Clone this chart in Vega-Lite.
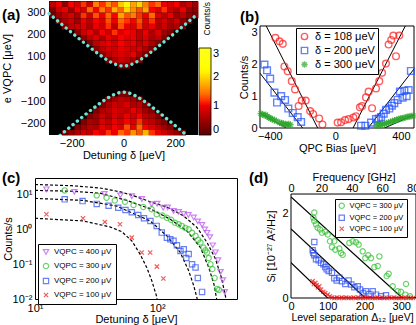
{
"$schema":"https://vega.github.io/schema/vega-lite/v6.json",
"padding":{"left":1,"top":1,"right":0,"bottom":0},
"spacing":10,
"config":{"font":"Liberation Sans","axis":{"labelFontSize":11,"titleFontSize":11,"titleFontWeight":"normal","grid":false,"domain":false,"ticks":false,"labelColor":"black","titleColor":"black","labelFlush":false,"labelOverlap":false},"view":{"stroke":"black","strokeWidth":1},"legend":{"labelColor":"black","titleColor":"black","labelOverlap":false},"title":{"color":"black"}},
"datasets":{
"heat":[
{"x":-288,"y":325,"c":0.7},{"x":-264,"y":325,"c":1.0},{"x":-240,"y":325,"c":0.4},{"x":-216,"y":325,"c":1.1},{"x":-192,"y":325,"c":0.9},{"x":-168,"y":325,"c":1.2},{"x":-144,"y":325,"c":0.8},{"x":-120,"y":325,"c":1.5},{"x":-96,"y":325,"c":1.2},{"x":-72,"y":325,"c":1.6},{"x":-48,"y":325,"c":1.3},{"x":-24,"y":325,"c":1.9},{"x":0,"y":325,"c":2.2},{"x":24,"y":325,"c":1.7},{"x":48,"y":325,"c":2.0},{"x":72,"y":325,"c":1.5},{"x":96,"y":325,"c":1.2},{"x":120,"y":325,"c":1.4},{"x":144,"y":325,"c":1.0},{"x":168,"y":325,"c":0.9},{"x":192,"y":325,"c":1.1},{"x":216,"y":325,"c":0.6},{"x":240,"y":325,"c":0.8},{"x":264,"y":325,"c":0.5},
{"x":-288,"y":300,"c":0.3},{"x":-264,"y":300,"c":0.8},{"x":-240,"y":300,"c":1.0},{"x":-216,"y":300,"c":0.5},{"x":-192,"y":300,"c":1.1},{"x":-168,"y":300,"c":0.9},{"x":-144,"y":300,"c":1.4},{"x":-120,"y":300,"c":1.1},{"x":-96,"y":300,"c":1.5},{"x":-72,"y":300,"c":1.2},{"x":-48,"y":300,"c":1.8},{"x":-24,"y":300,"c":1.4},{"x":0,"y":300,"c":2.0},{"x":24,"y":300,"c":1.6},{"x":48,"y":300,"c":1.3},{"x":72,"y":300,"c":1.7},{"x":96,"y":300,"c":1.1},{"x":120,"y":300,"c":0.9},{"x":144,"y":300,"c":1.2},{"x":168,"y":300,"c":0.8},{"x":192,"y":300,"c":0.6},{"x":216,"y":300,"c":1.0},{"x":240,"y":300,"c":0.5},{"x":264,"y":300,"c":0.4},
{"x":-288,"y":275,"c":0.2},{"x":-264,"y":275,"c":0.5},{"x":-240,"y":275,"c":0.7},{"x":-216,"y":275,"c":0.9},{"x":-192,"y":275,"c":0.6},{"x":-168,"y":275,"c":1.2},{"x":-144,"y":275,"c":0.8},{"x":-120,"y":275,"c":1.3},{"x":-96,"y":275,"c":1.0},{"x":-72,"y":275,"c":1.4},{"x":-48,"y":275,"c":1.1},{"x":-24,"y":275,"c":1.7},{"x":0,"y":275,"c":1.3},{"x":24,"y":275,"c":1.5},{"x":48,"y":275,"c":1.2},{"x":72,"y":275,"c":1.0},{"x":96,"y":275,"c":1.4},{"x":120,"y":275,"c":0.9},{"x":144,"y":275,"c":0.7},{"x":168,"y":275,"c":1.0},{"x":192,"y":275,"c":0.5},{"x":216,"y":275,"c":0.7},{"x":240,"y":275,"c":0.4},{"x":264,"y":275,"c":0.3},
{"x":-264,"y":250,"c":0.3},{"x":-240,"y":250,"c":0.6},{"x":-216,"y":250,"c":0.8},{"x":-192,"y":250,"c":0.5},{"x":-168,"y":250,"c":1.0},{"x":-144,"y":250,"c":0.7},{"x":-120,"y":250,"c":1.1},{"x":-96,"y":250,"c":0.9},{"x":-72,"y":250,"c":1.3},{"x":-48,"y":250,"c":1.0},{"x":-24,"y":250,"c":1.4},{"x":0,"y":250,"c":1.2},{"x":24,"y":250,"c":1.1},{"x":48,"y":250,"c":1.3},{"x":72,"y":250,"c":0.9},{"x":96,"y":250,"c":1.2},{"x":120,"y":250,"c":0.7},{"x":144,"y":250,"c":0.9},{"x":168,"y":250,"c":0.6},{"x":192,"y":250,"c":0.8},{"x":216,"y":250,"c":0.4},{"x":240,"y":250,"c":0.2},
{"x":-240,"y":225,"c":0.3},{"x":-216,"y":225,"c":0.7},{"x":-192,"y":225,"c":0.8},{"x":-168,"y":225,"c":0.9},{"x":-144,"y":225,"c":0.6},{"x":-120,"y":225,"c":1.0},{"x":-96,"y":225,"c":0.8},{"x":-72,"y":225,"c":1.2},{"x":-48,"y":225,"c":0.7},{"x":-24,"y":225,"c":1.3},{"x":0,"y":225,"c":1.0},{"x":24,"y":225,"c":0.9},{"x":48,"y":225,"c":1.2},{"x":72,"y":225,"c":0.8},{"x":96,"y":225,"c":1.0},{"x":120,"y":225,"c":0.6},{"x":144,"y":225,"c":0.8},{"x":168,"y":225,"c":0.5},{"x":192,"y":225,"c":0.6},{"x":216,"y":225,"c":0.2},
{"x":-192,"y":200,"c":0.4},{"x":-168,"y":200,"c":0.8},{"x":-144,"y":200,"c":1.0},{"x":-120,"y":200,"c":0.6},{"x":-96,"y":200,"c":1.1},{"x":-72,"y":200,"c":0.8},{"x":-48,"y":200,"c":1.2},{"x":-24,"y":200,"c":0.9},{"x":0,"y":200,"c":1.1},{"x":24,"y":200,"c":1.0},{"x":48,"y":200,"c":0.7},{"x":72,"y":200,"c":1.0},{"x":96,"y":200,"c":0.6},{"x":120,"y":200,"c":0.9},{"x":144,"y":200,"c":0.5},{"x":168,"y":200,"c":0.3},
{"x":-168,"y":175,"c":0.4},{"x":-144,"y":175,"c":0.7},{"x":-120,"y":175,"c":0.9},{"x":-96,"y":175,"c":0.6},{"x":-72,"y":175,"c":1.0},{"x":-48,"y":175,"c":0.8},{"x":-24,"y":175,"c":1.1},{"x":0,"y":175,"c":0.9},{"x":24,"y":175,"c":1.0},{"x":48,"y":175,"c":0.7},{"x":72,"y":175,"c":0.9},{"x":96,"y":175,"c":0.6},{"x":120,"y":175,"c":0.7},{"x":144,"y":175,"c":0.3},
{"x":-144,"y":150,"c":0.3},{"x":-120,"y":150,"c":0.7},{"x":-96,"y":150,"c":0.9},{"x":-72,"y":150,"c":1.0},{"x":-48,"y":150,"c":0.8},{"x":-24,"y":150,"c":1.1},{"x":0,"y":150,"c":0.9},{"x":24,"y":150,"c":1.0},{"x":48,"y":150,"c":0.7},{"x":72,"y":150,"c":0.9},{"x":96,"y":150,"c":0.6},{"x":120,"y":150,"c":0.3},
{"x":-120,"y":125,"c":0.4},{"x":-96,"y":125,"c":0.7},{"x":-72,"y":125,"c":0.9},{"x":-48,"y":125,"c":0.8},{"x":-24,"y":125,"c":1.0},{"x":0,"y":125,"c":0.9},{"x":24,"y":125,"c":0.8},{"x":48,"y":125,"c":0.9},{"x":72,"y":125,"c":0.6},{"x":96,"y":125,"c":0.3},
{"x":-96,"y":100,"c":0.4},{"x":-72,"y":100,"c":0.7},{"x":-48,"y":100,"c":0.8},{"x":-24,"y":100,"c":0.9},{"x":0,"y":100,"c":0.8},{"x":24,"y":100,"c":1.0},{"x":48,"y":100,"c":0.6},{"x":72,"y":100,"c":0.3},
{"x":-72,"y":75,"c":0.3},{"x":-48,"y":75,"c":0.6},{"x":-24,"y":75,"c":0.8},{"x":0,"y":75,"c":0.7},{"x":24,"y":75,"c":0.5},{"x":48,"y":75,"c":0.3},
{"x":-24,"y":50,"c":0.3},{"x":0,"y":50,"c":0.3},
{"x":-24,"y":-75,"c":0.3},{"x":0,"y":-75,"c":0.3},
{"x":-72,"y":-100,"c":0.3},{"x":-48,"y":-100,"c":0.5},{"x":-24,"y":-100,"c":0.7},{"x":0,"y":-100,"c":0.6},{"x":24,"y":-100,"c":0.5},{"x":48,"y":-100,"c":0.3},
{"x":-96,"y":-125,"c":0.3},{"x":-72,"y":-125,"c":0.6},{"x":-48,"y":-125,"c":0.8},{"x":-24,"y":-125,"c":0.7},{"x":0,"y":-125,"c":0.9},{"x":24,"y":-125,"c":0.6},{"x":48,"y":-125,"c":0.7},{"x":72,"y":-125,"c":0.3},
{"x":-120,"y":-150,"c":0.3},{"x":-96,"y":-150,"c":0.6},{"x":-72,"y":-150,"c":0.7},{"x":-48,"y":-150,"c":0.9},{"x":-24,"y":-150,"c":0.8},{"x":0,"y":-150,"c":0.7},{"x":24,"y":-150,"c":1.0},{"x":48,"y":-150,"c":0.8},{"x":72,"y":-150,"c":0.5},{"x":96,"y":-150,"c":0.3},
{"x":-144,"y":-175,"c":0.3},{"x":-120,"y":-175,"c":0.5},{"x":-96,"y":-175,"c":0.8},{"x":-72,"y":-175,"c":0.6},{"x":-48,"y":-175,"c":0.9},{"x":-24,"y":-175,"c":0.7},{"x":0,"y":-175,"c":1.0},{"x":24,"y":-175,"c":0.8},{"x":48,"y":-175,"c":1.1},{"x":72,"y":-175,"c":0.7},{"x":96,"y":-175,"c":0.6},{"x":120,"y":-175,"c":0.3},
{"x":-168,"y":-200,"c":0.3},{"x":-144,"y":-200,"c":0.6},{"x":-120,"y":-200,"c":0.5},{"x":-96,"y":-200,"c":0.9},{"x":-72,"y":-200,"c":0.7},{"x":-48,"y":-200,"c":1.0},{"x":-24,"y":-200,"c":0.8},{"x":0,"y":-200,"c":1.1},{"x":24,"y":-200,"c":0.9},{"x":48,"y":-200,"c":1.2},{"x":72,"y":-200,"c":0.8},{"x":96,"y":-200,"c":0.7},{"x":120,"y":-200,"c":0.5},{"x":144,"y":-200,"c":0.3},
{"x":-192,"y":-225,"c":0.3},{"x":-168,"y":-225,"c":0.5},{"x":-144,"y":-225,"c":0.7},{"x":-120,"y":-225,"c":0.6},{"x":-96,"y":-225,"c":1.0},{"x":-72,"y":-225,"c":0.8},{"x":-48,"y":-225,"c":1.1},{"x":-24,"y":-225,"c":0.9},{"x":0,"y":-225,"c":1.3},{"x":24,"y":-225,"c":1.0},{"x":48,"y":-225,"c":1.4},{"x":72,"y":-225,"c":1.1},{"x":96,"y":-225,"c":0.9},{"x":120,"y":-225,"c":0.7},{"x":144,"y":-225,"c":0.5},{"x":168,"y":-225,"c":0.3},
{"x":-240,"y":-250,"c":0.2},{"x":-216,"y":-250,"c":0.4},{"x":-192,"y":-250,"c":0.6},{"x":-168,"y":-250,"c":0.8},{"x":-144,"y":-250,"c":0.7},{"x":-120,"y":-250,"c":1.1},{"x":-96,"y":-250,"c":0.9},{"x":-72,"y":-250,"c":1.2},{"x":-48,"y":-250,"c":1.0},{"x":-24,"y":-250,"c":1.4},{"x":0,"y":-250,"c":1.2},{"x":24,"y":-250,"c":1.6},{"x":48,"y":-250,"c":1.3},{"x":72,"y":-250,"c":1.8},{"x":96,"y":-250,"c":1.2},{"x":120,"y":-250,"c":1.0},{"x":144,"y":-250,"c":0.8},{"x":168,"y":-250,"c":0.6},{"x":192,"y":-250,"c":0.4},{"x":216,"y":-250,"c":0.2}
],
"hyp":[
{"br":"u","x":-288,"y":293.8},{"br":"u","x":-260,"y":266.4},{"br":"u","x":-240,"y":246.9},{"br":"u","x":-220,"y":227.5},{"br":"u","x":-200,"y":208.2},{"br":"u","x":-180,"y":189.1},{"br":"u","x":-160,"y":170.2},{"br":"u","x":-140,"y":151.5},{"br":"u","x":-120,"y":133.3},{"br":"u","x":-100,"y":115.6},{"br":"u","x":-80,"y":98.8},{"br":"u","x":-60,"y":83.5},{"br":"u","x":-40,"y":70.5},{"br":"u","x":-20,"y":61.4},{"br":"u","x":0,"y":58},{"br":"u","x":20,"y":61.4},{"br":"u","x":40,"y":70.5},{"br":"u","x":60,"y":83.5},{"br":"u","x":80,"y":98.8},{"br":"u","x":100,"y":115.6},{"br":"u","x":120,"y":133.3},{"br":"u","x":140,"y":151.5},{"br":"u","x":160,"y":170.2},{"br":"u","x":180,"y":189.1},{"br":"u","x":200,"y":208.2},{"br":"u","x":220,"y":227.5},{"br":"u","x":240,"y":246.9},{"br":"u","x":260,"y":266.4},{"br":"u","x":288,"y":293.8},
{"br":"l","x":-245,"y":-251.8},{"br":"l","x":-240,"y":-246.9},{"br":"l","x":-220,"y":-227.5},{"br":"l","x":-200,"y":-208.2},{"br":"l","x":-180,"y":-189.1},{"br":"l","x":-160,"y":-170.2},{"br":"l","x":-140,"y":-151.5},{"br":"l","x":-120,"y":-133.3},{"br":"l","x":-100,"y":-115.6},{"br":"l","x":-80,"y":-98.8},{"br":"l","x":-60,"y":-83.5},{"br":"l","x":-40,"y":-70.5},{"br":"l","x":-20,"y":-61.4},{"br":"l","x":0,"y":-58},{"br":"l","x":20,"y":-61.4},{"br":"l","x":40,"y":-70.5},{"br":"l","x":60,"y":-83.5},{"br":"l","x":80,"y":-98.8},{"br":"l","x":100,"y":-115.6},{"br":"l","x":120,"y":-133.3},{"br":"l","x":140,"y":-151.5},{"br":"l","x":160,"y":-170.2},{"br":"l","x":180,"y":-189.1},{"br":"l","x":200,"y":-208.2},{"br":"l","x":220,"y":-227.5},{"br":"l","x":240,"y":-246.9},{"br":"l","x":245,"y":-251.8}
],
"bfit":[
{"g":"108L","v":-108,"c":0},{"g":"108L","v":-422,"c":3.2},{"g":"108R","v":108,"c":0},{"g":"108R","v":427,"c":3.2},
{"g":"200L","v":-200,"c":0},{"g":"200L","v":-460,"c":1.72},{"g":"200R","v":200,"c":0},{"g":"200R","v":480,"c":1.85},
{"g":"300L","v":-300,"c":0},{"g":"300L","v":-460,"c":0.47},{"g":"300R","v":300,"c":0},{"g":"300R","v":480,"c":0.41}
],
"bpts":[
{"s":"108","v":-366,"c":2.83},{"s":"108","v":-341,"c":2.72},{"s":"108","v":-321,"c":2.64},{"s":"108","v":-311,"c":1.93},{"s":"108","v":-291,"c":1.78},{"s":"108","v":-266,"c":1.47},{"s":"108","v":-246,"c":1.21},{"s":"108","v":-224,"c":0.69},{"s":"108","v":-205,"c":0.86},{"s":"108","v":-181,"c":0.86},{"s":"108","v":-154,"c":0.53},{"s":"108","v":-136,"c":0.44},{"s":"108","v":-99,"c":0.30},{"s":"108","v":-79,"c":0.11},
{"s":"108","v":14,"c":0.17},{"s":"108","v":35,"c":0.18},{"s":"108","v":59,"c":0.25},{"s":"108","v":81,"c":0.28},{"s":"108","v":110,"c":0.33},{"s":"108","v":126,"c":0.37},{"s":"108","v":150,"c":0.65},{"s":"108","v":163,"c":0.69},{"s":"108","v":187,"c":0.96},{"s":"108","v":203,"c":1.14},{"s":"108","v":224,"c":0.62},{"s":"108","v":248,"c":1.24},{"s":"108","v":268,"c":1.47},{"s":"108","v":285,"c":1.73},{"s":"108","v":309,"c":2.02},{"s":"108","v":325,"c":2.62},{"s":"108","v":341,"c":2.76},{"s":"108","v":354,"c":2.9},{"s":"108","v":370,"c":2.25},{"s":"108","v":390,"c":2.9},
{"s":"200","v":-433,"c":1.99},{"s":"200","v":-417,"c":1.81},{"s":"200","v":-398,"c":1.55},{"s":"200","v":-372,"c":1.11},{"s":"200","v":-356,"c":0.8},{"s":"200","v":-331,"c":1.0},{"s":"200","v":-307,"c":0.88},{"s":"200","v":-287,"c":0.61},{"s":"200","v":-260,"c":0.47},{"s":"200","v":-230,"c":0.34},{"s":"200","v":-209,"c":0.19},
{"s":"200","v":157,"c":0.07},{"s":"200","v":183,"c":0.07},{"s":"200","v":218,"c":0.17},{"s":"200","v":248,"c":0.28},{"s":"200","v":265,"c":0.3},{"s":"200","v":279,"c":0.34},{"s":"200","v":295,"c":0.45},{"s":"200","v":309,"c":0.57},{"s":"200","v":329,"c":0.61},{"s":"200","v":345,"c":0.7},{"s":"200","v":360,"c":0.78},{"s":"200","v":380,"c":0.88},{"s":"200","v":394,"c":1.14},{"s":"200","v":410,"c":0.95},{"s":"200","v":421,"c":1.17},{"s":"200","v":435,"c":1.0},{"s":"200","v":447,"c":1.19},{"s":"200","v":461,"c":1.79},
{"s":"300","v":-455,"c":0.45},{"s":"300","v":-445,"c":0.43},{"s":"300","v":-435,"c":0.4},{"s":"300","v":-425,"c":0.41},{"s":"300","v":-415,"c":0.36},{"s":"300","v":-405,"c":0.33},{"s":"300","v":-395,"c":0.3},{"s":"300","v":-385,"c":0.27},{"s":"300","v":-372,"c":0.25},{"s":"300","v":-360,"c":0.22},{"s":"300","v":-340,"c":0.17},{"s":"300","v":-328,"c":0.15},{"s":"300","v":-318,"c":0.14},{"s":"300","v":-305,"c":0.12},{"s":"300","v":-295,"c":0.1},{"s":"300","v":-285,"c":0.12},{"s":"300","v":-275,"c":0.1},
{"s":"300","v":250,"c":0.08},{"s":"300","v":262,"c":0.1},{"s":"300","v":275,"c":0.09},{"s":"300","v":288,"c":0.12},{"s":"300","v":300,"c":0.13},{"s":"300","v":312,"c":0.15},{"s":"300","v":325,"c":0.17},{"s":"300","v":338,"c":0.19},{"s":"300","v":350,"c":0.22},{"s":"300","v":362,"c":0.24},{"s":"300","v":375,"c":0.26},{"s":"300","v":388,"c":0.28},{"s":"300","v":400,"c":0.3},{"s":"300","v":412,"c":0.31},{"s":"300","v":425,"c":0.33},{"s":"300","v":438,"c":0.35},{"s":"300","v":450,"c":0.36},{"s":"300","v":462,"c":0.37},{"s":"300","v":475,"c":0.38}
],
"cfit":[
{"k":"400","d":10,"n":19.5},{"k":"400","d":20,"n":18},{"k":"400","d":34,"n":15.5},{"k":"400","d":50,"n":12},{"k":"400","d":64,"n":9.3},{"k":"400","d":88,"n":6.2},{"k":"400","d":120,"n":4.4},{"k":"400","d":165,"n":2.43},{"k":"400","d":212,"n":1.13},{"k":"400","d":256,"n":0.42},{"k":"400","d":300,"n":0.141},{"k":"400","d":335,"n":0.042},{"k":"400","d":365,"n":0.0105},{"k":"400","d":370,"n":0.005},
{"k":"300","d":10,"n":13.2},{"k":"300","d":20,"n":12.5},{"k":"300","d":34,"n":11},{"k":"300","d":55,"n":7},{"k":"300","d":88,"n":3.9},{"k":"300","d":128,"n":1.96},{"k":"300","d":175,"n":0.906},{"k":"300","d":226,"n":0.302},{"k":"300","d":264,"n":0.081},{"k":"300","d":291,"n":0.027},{"k":"300","d":306,"n":0.0105},{"k":"300","d":310,"n":0.005},
{"k":"200","d":10,"n":7.78},{"k":"200","d":24.7,"n":6.82},{"k":"200","d":46.6,"n":4.69},{"k":"200","d":87.6,"n":1.75},{"k":"200","d":120,"n":0.652},{"k":"200","d":154.6,"n":0.217},{"k":"200","d":181,"n":0.065},{"k":"200","d":199,"n":0.0243},{"k":"200","d":212,"n":0.0105},{"k":"200","d":215,"n":0.005},
{"k":"100","d":10,"n":2.09},{"k":"100","d":24.7,"n":1.75},{"k":"100","d":41,"n":1.18},{"k":"100","d":51.2,"n":0.865},{"k":"100","d":62,"n":0.469},{"k":"100","d":72.4,"n":0.195},{"k":"100","d":82.1,"n":0.081},{"k":"100","d":90.2,"n":0.034},{"k":"100","d":99.4,"n":0.0113},{"k":"100","d":101,"n":0.005}
],
"cpts":[
{"k":"400","d":12.4,"n":14.2},{"k":"400","d":21,"n":12},{"k":"400","d":37,"n":10.5},{"k":"400","d":50,"n":9.5},{"k":"400","d":62,"n":9},{"k":"400","d":75,"n":7.5},{"k":"400","d":90,"n":5.3},{"k":"400","d":100,"n":5.5},{"k":"400","d":112,"n":4.2},{"k":"400","d":122,"n":4.3},{"k":"400","d":136,"n":3.4},{"k":"400","d":150,"n":3.2},{"k":"400","d":165,"n":2.8},{"k":"400","d":180,"n":2.6},{"k":"400","d":199,"n":2.2},{"k":"400","d":215,"n":1.7},{"k":"400","d":233,"n":1.35},{"k":"400","d":245,"n":1.0},{"k":"400","d":256,"n":0.8},{"k":"400","d":270,"n":0.6},{"k":"400","d":285,"n":0.35},{"k":"400","d":300,"n":0.22},{"k":"400","d":315,"n":0.13},{"k":"400","d":330,"n":0.06},{"k":"400","d":345,"n":0.035},{"k":"400","d":357,"n":0.016},
{"k":"300","d":17.5,"n":13.2},{"k":"300","d":32,"n":9.5},{"k":"300","d":38.5,"n":8.1},{"k":"300","d":45,"n":6.8},{"k":"300","d":54.5,"n":6.2},{"k":"300","d":64,"n":5.0},{"k":"300","d":77,"n":4.4},{"k":"300","d":90,"n":3.8},{"k":"300","d":99,"n":2.72},{"k":"300","d":110,"n":2.5},{"k":"300","d":120,"n":2.17},{"k":"300","d":130,"n":1.9},{"k":"300","d":140,"n":1.56},{"k":"300","d":150,"n":1.4},{"k":"300","d":159,"n":1.26},{"k":"300","d":170,"n":1.1},{"k":"300","d":181,"n":1.01},{"k":"300","d":193,"n":0.8},{"k":"300","d":206,"n":0.65},{"k":"300","d":216,"n":0.5},{"k":"300","d":226,"n":0.42},{"k":"300","d":239,"n":0.3},{"k":"300","d":248,"n":0.25},{"k":"300","d":256,"n":0.216},{"k":"300","d":264,"n":0.15},{"k":"300","d":273,"n":0.1},{"k":"300","d":283,"n":0.073},{"k":"300","d":295,"n":0.04},{"k":"300","d":309,"n":0.0195},{"k":"300","d":320,"n":0.0183},
{"k":"200","d":17.5,"n":7.3},{"k":"200","d":24.5,"n":6.5},{"k":"200","d":32,"n":5.4},{"k":"200","d":40,"n":4.8},{"k":"200","d":48,"n":4.2},{"k":"200","d":55,"n":3.6},{"k":"200","d":62,"n":3.1},{"k":"200","d":70,"n":2.6},{"k":"200","d":78,"n":2.1},{"k":"200","d":88,"n":1.75},{"k":"200","d":99,"n":1.26},{"k":"200","d":109,"n":0.81},{"k":"200","d":120,"n":0.58},{"k":"200","d":128,"n":0.52},{"k":"200","d":136,"n":0.47},{"k":"200","d":145,"n":0.35},{"k":"200","d":155,"n":0.24},{"k":"200","d":165,"n":0.27},{"k":"200","d":173,"n":0.15},{"k":"200","d":181,"n":0.195},{"k":"200","d":193,"n":0.1},{"k":"200","d":206,"n":0.081},{"k":"200","d":215,"n":0.04},{"k":"200","d":233,"n":0.016},
{"k":"100","d":12.4,"n":2.72},{"k":"100","d":24.7,"n":2.09},{"k":"100","d":37.3,"n":1.64},{"k":"100","d":49.6,"n":1.4},{"k":"100","d":61.9,"n":0.58},{"k":"100","d":74.8,"n":0.216},{"k":"100","d":87.6,"n":0.216},{"k":"100","d":99.4,"n":0.085},{"k":"100","d":112.4,"n":0.0388}
],
"dfit":[
{"g":"300","x":0,"s":1.8},{"g":"300","x":303,"s":0},{"g":"300","x":340,"s":0},
{"g":"200","x":0,"s":1.23},{"g":"200","x":202,"s":0},{"g":"200","x":340,"s":0},
{"g":"100","x":0,"s":0.63},{"g":"100","x":100,"s":0},{"g":"100","x":340,"s":0}
],
"dpts":[
{"k":"300","x":63.4,"s":1.52},{"k":"300","x":60.8,"s":1.43},{"k":"300","x":63.4,"s":1.37},{"k":"300","x":68,"s":1.31},{"k":"300","x":72.6,"s":1.25},{"k":"300","x":78.9,"s":1.22},{"k":"300","x":84.3,"s":1.16},{"k":"300","x":93.3,"s":1.18},{"k":"300","x":99.8,"s":1.13},{"k":"300","x":106,"s":1.01},{"k":"300","x":117.8,"s":1.01},{"k":"300","x":111.5,"s":0.905},{"k":"300","x":120.5,"s":0.86},{"k":"300","x":131.4,"s":0.88},{"k":"300","x":136,"s":0.8},{"k":"300","x":140.6,"s":0.77},{"k":"300","x":158.6,"s":0.98},{"k":"300","x":167.8,"s":1.01},{"k":"300","x":176.8,"s":0.99},{"k":"300","x":184,"s":0.95},{"k":"300","x":195,"s":0.83},{"k":"300","x":202,"s":0.71},{"k":"300","x":210,"s":0.76},{"k":"300","x":217.6,"s":0.71},{"k":"300","x":226.7,"s":0.55},{"k":"300","x":235.9,"s":0.57},{"k":"300","x":240.3,"s":0.74},{"k":"300","x":260.3,"s":0.39},{"k":"300","x":265.7,"s":0.43},{"k":"300","x":276.6,"s":0.21},{"k":"300","x":290.2,"s":0.12},{"k":"300","x":299,"s":0.11},{"k":"300","x":311,"s":0.06},{"k":"300","x":312.9,"s":0.25},{"k":"300","x":323.7,"s":0.03},
{"k":"200","x":63.4,"s":0.995},{"k":"200","x":58.9,"s":0.85},{"k":"200","x":60.8,"s":0.8},{"k":"200","x":63.4,"s":0.76},{"k":"200","x":68,"s":0.69},{"k":"200","x":75.2,"s":0.67},{"k":"200","x":81.6,"s":0.625},{"k":"200","x":88,"s":0.6},{"k":"200","x":93.3,"s":0.55},{"k":"200","x":97.1,"s":0.51},{"k":"200","x":102.5,"s":0.48},{"k":"200","x":111.5,"s":0.45},{"k":"200","x":117.8,"s":0.35},{"k":"200","x":124.2,"s":0.31},{"k":"200","x":131.4,"s":0.36},{"k":"200","x":138.7,"s":0.3},{"k":"200","x":147.8,"s":0.25},{"k":"200","x":156.8,"s":0.31},{"k":"200","x":164,"s":0.24},{"k":"200","x":172.2,"s":0.19},{"k":"200","x":181.4,"s":0.21},{"k":"200","x":187.7,"s":0.15},{"k":"200","x":195,"s":0.09},{"k":"200","x":204,"s":0.12},{"k":"200","x":213,"s":0.07},{"k":"200","x":222.2,"s":0.12},{"k":"200","x":231.3,"s":0.06},{"k":"200","x":244.9,"s":0.03},{"k":"200","x":258.4,"s":0.05},
{"k":"100","x":58.9,"s":0.3},{"k":"100","x":62.5,"s":0.25},{"k":"100","x":66.2,"s":0.27},{"k":"100","x":69.8,"s":0.23},{"k":"100","x":73.4,"s":0.19},{"k":"100","x":77.1,"s":0.21},{"k":"100","x":81.6,"s":0.15},{"k":"100","x":88,"s":0.11},{"k":"100","x":93.3,"s":0.09},{"k":"100","x":99.8,"s":0.06},{"k":"100","x":106,"s":0.03},
{"k":"100","x":112,"s":0.01},{"k":"100","x":118,"s":0},{"k":"100","x":125,"s":0.01},{"k":"100","x":131,"s":0},{"k":"100","x":138,"s":0.01},{"k":"100","x":144,"s":0},{"k":"100","x":150,"s":0.01},{"k":"100","x":157,"s":0},{"k":"100","x":163,"s":0},{"k":"100","x":170,"s":0.01},{"k":"100","x":176,"s":0},{"k":"100","x":183,"s":0.01},{"k":"100","x":189,"s":0},{"k":"100","x":196,"s":0},{"k":"100","x":202,"s":0.01},{"k":"100","x":209,"s":0},{"k":"100","x":215,"s":0.01},{"k":"100","x":222,"s":0},{"k":"100","x":228,"s":0},{"k":"100","x":235,"s":0.01},{"k":"100","x":241,"s":0},{"k":"100","x":248,"s":0.01},{"k":"100","x":254,"s":0},{"k":"100","x":261,"s":0},{"k":"100","x":267,"s":0.01},{"k":"100","x":274,"s":0},{"k":"100","x":280,"s":0.01},{"k":"100","x":287,"s":0},{"k":"100","x":293,"s":0},{"k":"100","x":300,"s":0.01},{"k":"100","x":306,"s":0},{"k":"100","x":313,"s":0},{"k":"100","x":319,"s":0.01},{"k":"100","x":326,"s":0},{"k":"100","x":332,"s":0}
]
},
"resolve":{"scale":{"color":"independent","shape":"independent"},"legend":{"color":"independent","shape":"independent"}},
"vconcat":[
{"columns":2,"spacing":18,"align":"none","bounds":"full",
 "resolve":{"scale":{"color":"independent","shape":"independent"},"legend":{"color":"independent","shape":"independent"}},
 "concat":[
 {"width":163,"height":134,
  "view":{"stroke":null},
  "title":{"text":"(a)","anchor":"start","frame":"group","offset":0,"dx":-33,"dy":22,"fontSize":15,"fontWeight":"bold"},
  "resolve":{"scale":{"x":"independent"},"axis":{"x":"independent"}},
  "layer":[
   {"layer":[
    {"data":{"values":[{}]},"mark":{"type":"rect","color":"black"},
     "encoding":{
      "x":{"datum":-288,"type":"quantitative","scale":{"domain":[-342.1,288],"nice":false,"zero":false},"axis":{"title":"Detuning δ [μeV]","values":[-200,0,200],"labelPadding":2,"titlePadding":1,"titleX":88.5}},
      "x2":{"datum":288},
      "y":{"datum":-250,"type":"quantitative","scale":{"domain":[-250,350],"nice":false,"zero":false},"axis":{"title":"e VQPC [μeV]","values":[-200,-100,0,100,200,300],"labelPadding":4,"minExtent":34,"maxExtent":34,"titlePadding":2.5,"offset":-14}},
      "y2":{"datum":350}}},
    {"data":{"name":"heat"},"mark":{"type":"rect"},
     "encoding":{
      "x":{"field":"x","type":"quantitative","bin":{"binned":true,"step":24},"axis":{"title":"Detuning δ [μeV]","values":[-200,0,200],"labelPadding":2,"titlePadding":1,"titleX":88.5}},
      "y":{"field":"y","type":"quantitative","bin":{"binned":true,"step":25},"axis":{"title":"e VQPC [μeV]","values":[-200,-100,0,100,200,300],"labelPadding":4,"minExtent":34,"maxExtent":34,"titlePadding":2.5,"offset":-14}},
      "color":{"field":"c","type":"quantitative","scale":{"domain":[0,1.125,2.25,3],"range":["#000000","#ff0000","#ffff00","#ffffff"]},
       "legend":{"orient":"none","legendX":164,"legendY":47,"direction":"vertical","title":null,"padding":0,"gradientLength":87,"gradientThickness":12,"gradientStrokeColor":"black","gradientStrokeWidth":0.8,"values":[0,1,2,3],"labelFontSize":11,"labelOffset":2}}
     }},
    {"data":{"name":"hyp"},"mark":{"type":"line","color":"#6fe3d4","strokeWidth":3.4,"strokeDash":[0.1,5.5],"strokeCap":"round","clip":true},
     "encoding":{
      "x":{"field":"x","type":"quantitative","axis":{"title":"Detuning δ [μeV]","values":[-200,0,200],"labelPadding":2,"titlePadding":1,"titleX":88.5}},
      "y":{"field":"y","type":"quantitative","axis":{"title":"e VQPC [μeV]","values":[-200,-100,0,100,200,300],"labelPadding":4,"minExtent":34,"maxExtent":34,"titlePadding":2.5,"offset":-14}},
      "detail":{"field":"br"}}}
   ]},
   {"data":{"values":[{}]},"mark":{"type":"rule","opacity":0},
    "encoding":{"x":{"datum":0,"type":"quantitative","scale":{"domain":[0,1]},"axis":{"orient":"top","title":"Counts/s","labels":false,"titleFontSize":8.5,"titleAngle":270,"titleAlign":"left","titleBaseline":"middle","titleX":171,"titleY":34,"minExtent":0,"maxExtent":0,"titlePadding":0}}}}
  ]},
 {"width":154,"height":127,
  "view":{"stroke":null},
  "title":{"text":"(b)","anchor":"start","frame":"group","offset":0,"dx":-20,"dy":24,"fontSize":15,"fontWeight":"bold"},
  "layer":[
   {"data":{"values":[{}]},"mark":{"type":"rect","fill":"transparent","stroke":"black","strokeWidth":1},
    "encoding":{
     "x":{"datum":-460,"type":"quantitative","scale":{"domain":[-460,480],"nice":false,"zero":false},"axis":{"title":"QPC Bias [μeV]","values":[-400,-200,0,200,400],"labelPadding":2,"titlePadding":1}},
     "x2":{"datum":480},
     "y":{"datum":0,"type":"quantitative","scale":{"domain":[0,3.984],"nice":false},"axis":{"title":"Counts/s","values":[0,1,2,3],"labelPadding":3,"minExtent":8,"maxExtent":8,"titlePadding":3,"titleY":76}},
     "y2":{"datum":3.2}}},
   {"data":{"name":"bfit"},"mark":{"type":"line","color":"black","strokeWidth":1,"clip":true},
    "encoding":{
     "x":{"field":"v","type":"quantitative","axis":{"title":"QPC Bias [μeV]","values":[-400,-200,0,200,400],"labelPadding":2,"titlePadding":1}},
     "y":{"field":"c","type":"quantitative","axis":{"title":"Counts/s","values":[0,1,2,3],"labelPadding":3,"minExtent":8,"maxExtent":8,"titlePadding":3,"titleY":76}},
     "detail":{"field":"g"}}},
   {"data":{"name":"bpts"},"mark":{"type":"point","filled":false,"strokeWidth":1.4,"size":45},
    "encoding":{
     "x":{"field":"v","type":"quantitative"},
     "y":{"field":"c","type":"quantitative"},
     "color":{"field":"s","type":"nominal","scale":{"domain":["108","200","300"],"range":["#ff1a1a","#2050ff","#2aa52a"]},
      "legend":{"orient":"none","legendX":36,"legendY":27,"title":null,"strokeColor":"black","fillColor":"white","padding":3,"labelFontSize":11,"symbolSize":40,"symbolStrokeWidth":1.4,"rowPadding":1,"labelOffset":5,"labelExpr":"'δ = ' + datum.label + ' μeV'"}},
     "shape":{"field":"s","type":"nominal","scale":{"domain":["108","200","300"],"range":["circle","square","M-1,0L1,0M0,-1L0,1M-0.7,-0.7L0.7,0.7M-0.7,0.7L0.7,-0.7"]},
      "legend":{"orient":"none","legendX":36,"legendY":27,"title":null,"strokeColor":"black","fillColor":"white","padding":3,"labelFontSize":11,"symbolSize":40,"symbolStrokeWidth":1.4,"rowPadding":1,"labelOffset":5,"labelExpr":"'δ = ' + datum.label + ' μeV'"}}}}
  ]}
 ]},
{"columns":2,"spacing":11,"align":"none","bounds":"full",
 "resolve":{"scale":{"color":"independent","shape":"independent"},"legend":{"color":"independent","shape":"independent"}},
 "concat":[
 {"width":202,"height":121,
  "title":{"text":"(c)","anchor":"start","frame":"group","offset":0,"dx":-33,"dy":8,"fontSize":15,"fontWeight":"bold"},
  "layer":[
   {"data":{"name":"cfit"},"mark":{"type":"line","color":"black","strokeWidth":1.2,"strokeDash":[3,2],"clip":true},
    "encoding":{
     "x":{"field":"d","type":"quantitative","scale":{"type":"log","domain":[10,450],"nice":false},"axis":{"title":"Detuning δ [μeV]","values":[10,100],"labelExpr":"datum.value < 50 ? '10¹' : '10²'","labelPadding":3,"titlePadding":0}},
     "y":{"field":"n","type":"quantitative","scale":{"type":"log","domain":[0.01,30],"nice":false},"axis":{"title":"Counts/s","values":[0.01,0.1,1,10],"labelExpr":"datum.value > 5 ? '10¹' : datum.value > 0.5 ? '10⁰' : datum.value > 0.05 ? '10⁻¹' : '10⁻²'","labelPadding":3,"minExtent":19,"maxExtent":19,"titlePadding":3}},
     "detail":{"field":"k"}}},
   {"data":{"name":"cpts"},"mark":{"type":"point","filled":false,"strokeWidth":1.2,"size":28},
    "encoding":{
     "x":{"field":"d","type":"quantitative"},
     "y":{"field":"n","type":"quantitative"},
     "color":{"field":"k","type":"nominal","scale":{"domain":["400","300","200","100"],"range":["#b84ff0","#2fc02f","#2a4cf0","#f01818"]},
      "legend":{"orient":"none","legendX":3,"legendY":66,"title":null,"strokeColor":"black","fillColor":"white","padding":4,"labelFontSize":8,"symbolSize":28,"symbolStrokeWidth":1.2,"rowPadding":3,"labelOffset":4,"labelExpr":"'VQPC = ' + datum.label + ' μV'"}},
     "shape":{"field":"k","type":"nominal","scale":{"domain":["400","300","200","100"],"range":["triangle-down","circle","square","M-0.8,-0.8L0.8,0.8M-0.8,0.8L0.8,-0.8"]},
      "legend":{"orient":"none","legendX":3,"legendY":66,"title":null,"strokeColor":"black","fillColor":"white","padding":4,"labelFontSize":8,"symbolSize":28,"symbolStrokeWidth":1.2,"rowPadding":3,"labelOffset":4,"labelExpr":"'VQPC = ' + datum.label + ' μV'"}}}}
  ]},
 {"width":125,"height":120,
  "view":{"stroke":null},
  "title":{"text":"(d)","anchor":"start","frame":"group","offset":0,"dx":-42,"dy":15,"fontSize":15,"fontWeight":"bold"},
  "resolve":{"scale":{"x":"independent"},"axis":{"x":"independent"}},
  "layer":[
   {"layer":[
    {"data":{"values":[{}]},"mark":{"type":"rect","fill":"transparent","stroke":"black","strokeWidth":1},
     "encoding":{
      "x":{"datum":0,"type":"quantitative","scale":{"domain":[0,340],"nice":false},"axis":{"title":"Level separation Δ₁₂ [μeV]","values":[0,100,200,300],"labelPadding":2,"titlePadding":1,"titleFontSize":10.5,"titleX":61}},
      "x2":{"datum":340},
      "y":{"datum":0,"type":"quantitative","scale":{"domain":[0,2.135],"nice":false},"axis":{"title":"Sᵢ [10⁻²⁷ A²/Hz]","values":[0,0.5,1,1.5],"labelPadding":3,"minExtent":13,"maxExtent":13,"titlePadding":2,"titleY":68}},
      "y2":{"datum":1.85}}},
    {"data":{"name":"dfit"},"mark":{"type":"line","color":"black","strokeWidth":1.2,"clip":true},
     "encoding":{
      "x":{"field":"x","type":"quantitative","axis":{"title":"Level separation Δ₁₂ [μeV]","values":[0,100,200,300],"labelPadding":2,"titlePadding":1,"titleFontSize":10.5,"titleX":61}},
      "y":{"field":"s","type":"quantitative","axis":{"title":"Sᵢ [10⁻²⁷ A²/Hz]","values":[0,0.5,1,1.5],"labelPadding":3,"minExtent":13,"maxExtent":13,"titlePadding":2,"titleY":68}},
      "detail":{"field":"g"}}},
    {"data":{"name":"dpts"},"mark":{"type":"point","filled":false,"strokeWidth":1.2,"size":28},
     "encoding":{
      "x":{"field":"x","type":"quantitative"},
      "y":{"field":"s","type":"quantitative"},
      "color":{"field":"k","type":"nominal","scale":{"domain":["300","200","100"],"range":["#2fc02f","#2a4cf0","#f01818"]},
       "legend":{"orient":"none","legendX":44,"legendY":21,"title":null,"strokeColor":"black","fillColor":"white","padding":3,"labelFontSize":7.5,"symbolSize":28,"symbolStrokeWidth":1.2,"rowPadding":1,"labelOffset":4,"labelExpr":"'VQPC = ' + datum.label + ' μV'"}},
      "shape":{"field":"k","type":"nominal","scale":{"domain":["300","200","100"],"range":["circle","square","M-0.8,-0.8L0.8,0.8M-0.8,0.8L0.8,-0.8"]},
       "legend":{"orient":"none","legendX":44,"legendY":21,"title":null,"strokeColor":"black","fillColor":"white","padding":3,"labelFontSize":7.5,"symbolSize":28,"symbolStrokeWidth":1.2,"rowPadding":1,"labelOffset":4,"labelExpr":"'VQPC = ' + datum.label + ' μV'"}}}}
   ]},
   {"data":{"values":[{}]},"mark":{"type":"rule","opacity":0},
    "encoding":{"x":{"datum":0,"type":"quantitative","scale":{"domain":[0,82.2],"nice":false},"axis":{"orient":"top","offset":-16,"title":"Frequency [GHz]","values":[0,20,40,60,80],"labelPadding":1,"titlePadding":2,"minExtent":10,"maxExtent":10}}}}
  ]}
 ]}
]
}
